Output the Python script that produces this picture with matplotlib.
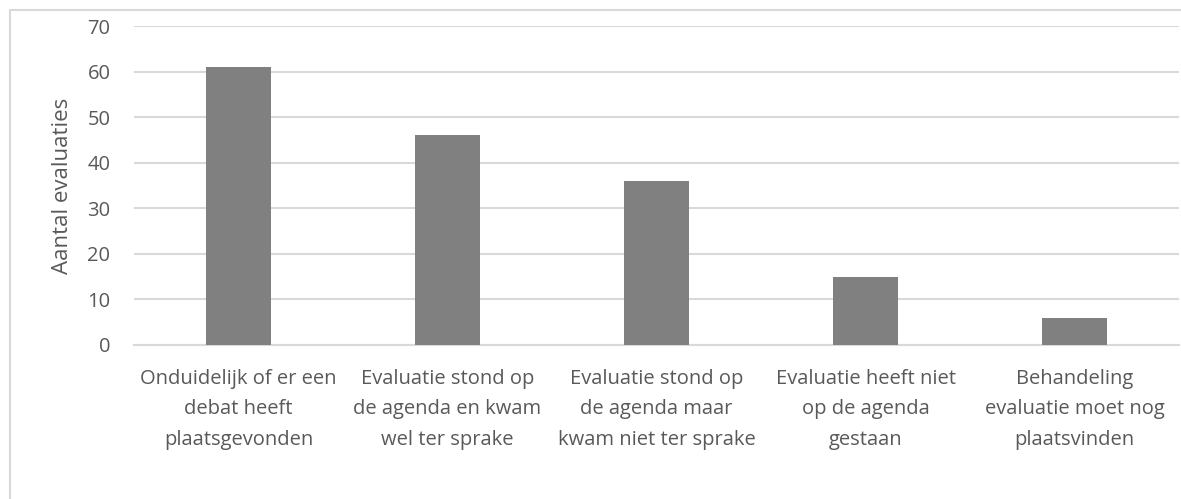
import matplotlib
matplotlib.use("Agg")
import matplotlib.pyplot as plt
from matplotlib.patches import Rectangle

categories = [
    "Onduidelijk of er een\ndebat heeft\nplaatsgevonden",
    "Evaluatie stond op\nde agenda en kwam\nwel ter sprake",
    "Evaluatie stond op\nde agenda maar\nkwam niet ter sprake",
    "Evaluatie heeft niet\nop de agenda\ngestaan",
    "Behandeling\nevaluatie moet nog\nplaatsvinden",
]
values = [61, 46, 36, 15, 6]
yticks = [0, 10, 20, 30, 40, 50, 60, 70]
ylabel = "Aantal evaluaties"

W, H = 1181, 499
plt.rcParams['font.family'] = ['Open Sans', 'DejaVu Sans']
text_color = '#595959'
grid_color = '#d9d9d9'

fig = plt.figure(figsize=(W / 100, H / 100), dpi=100)
fig.patch.set_facecolor('white')
fig.patches.append(Rectangle((10 / W, -0.1), 1.2, (H - 10) / H + 0.1,
                             transform=fig.transFigure, fill=False,
                             edgecolor=grid_color, linewidth=1.5))

ax = fig.add_axes([134 / W, (H - 345) / H, 1045 / W, 319 / H])
x = range(len(categories))
ax.bar(x, values, width=0.311, color='#808080', zorder=3)
ax.set_xlim(-0.5, len(categories) - 0.5)
ax.set_ylim(0, 70)
ax.set_yticks(yticks)
ax.yaxis.grid(True, color=grid_color, linewidth=1.5, zorder=0)
ax.set_xticks(list(x))
ax.set_xticklabels(categories, fontsize=14.5, color=text_color, linespacing=1.7)
ax.tick_params(axis='y', labelsize=14.5, labelcolor=text_color, length=0, pad=17)
ax.tick_params(axis='x', length=0, pad=17)
for s in ['top', 'right', 'left']:
    ax.spines[s].set_visible(False)
ax.spines['bottom'].set_color(grid_color)
ax.spines['bottom'].set_linewidth(1.5)
ax.set_ylabel(ylabel, fontsize=16, color=text_color, labelpad=10)

fig.savefig('out.png', dpi=100, facecolor='white')
